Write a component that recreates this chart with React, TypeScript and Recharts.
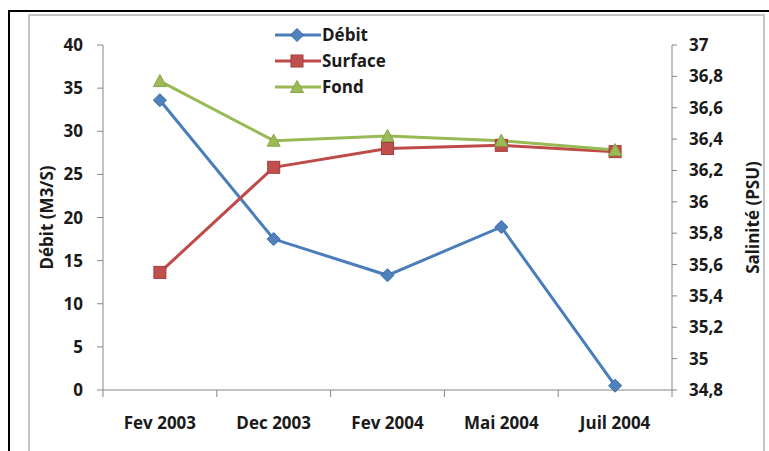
import React from 'react';
import { LineChart, Line, XAxis, YAxis, Legend } from 'recharts';

const categories = ['Fev 2003', 'Dec 2003', 'Fev 2004', 'Mai 2004', 'Juil 2004'];
const debitValues = [33.6, 17.5, 13.3, 18.9, 0.5];
const surfaceValues = [35.55, 36.22, 36.34, 36.36, 36.32];
const fondValues = [36.77, 36.39, 36.42, 36.39, 36.33];
const leftTicks = [0, 5, 10, 15, 20, 25, 30, 35, 40];
const rightTicks = [34.8, 35, 35.2, 35.4, 35.6, 35.8, 36, 36.2, 36.4, 36.6, 36.8, 37];

const data = categories.map((cat, i) => ({
  cat,
  debit: debitValues[i],
  surface: surfaceValues[i],
  fond: fondValues[i],
}));

const FONT = '"Open Sans", "DejaVu Sans", sans-serif';
const TEXT = '#1a1a1a';
const AXIS = '#868686';
const FS = 17;
const FW = 700;

const BLUE = '#4A7EBB';
const RED = '#BE4B48';
const GREEN = '#98B954';

type MarkerKind = 'diamond' | 'square' | 'triangle';

const Marker = ({ kind, cx, cy }: { kind: MarkerKind; cx: number; cy: number }) => {
  if (cx == null || cy == null) return null;
  if (kind === 'diamond') {
    const r = 6.5;
    return (
      <path
        d={`M${cx},${cy - r} L${cx + r},${cy} L${cx},${cy + r} L${cx - r},${cy} Z`}
        fill="#4F81BD"
        stroke="#3A6AA6"
        strokeWidth={1}
      />
    );
  }
  if (kind === 'square') {
    const h = 6;
    return <rect x={cx - h} y={cy - h} width={2 * h} height={2 * h} fill="#C0504D" stroke="#A43D3A" strokeWidth={1} />;
  }
  const h = 6.5;
  return (
    <path
      d={`M${cx},${cy - h} L${cx + h},${cy + h * 0.85} L${cx - h},${cy + h * 0.85} Z`}
      fill="#9BBB59"
      stroke="#85A447"
      strokeWidth={1}
    />
  );
};

const seriesList: { key: string; name: string; color: string; marker: MarkerKind; axis: string }[] = [
  { key: 'debit', name: 'Débit', color: BLUE, marker: 'diamond', axis: 'left' },
  { key: 'surface', name: 'Surface', color: RED, marker: 'square', axis: 'right' },
  { key: 'fond', name: 'Fond', color: GREEN, marker: 'triangle', axis: 'right' },
];

const TICK_SIZE = 7;
const TICK_MARGIN = 20;

const CategoryTick = (props: any) => {
  const { x, y, payload, index, visibleTicksCount, width } = props;
  const count = visibleTicksCount || categories.length;
  const half = (width || 569) / count / 2;
  const axisY = y - TICK_SIZE - TICK_MARGIN;
  return (
    <g>
      <line x1={x - half} y1={axisY} x2={x - half} y2={axisY + TICK_SIZE} stroke={AXIS} strokeWidth={1} />
      {index === count - 1 && (
        <line x1={x + half} y1={axisY} x2={x + half} y2={axisY + TICK_SIZE} stroke={AXIS} strokeWidth={1} />
      )}
      <text x={x} y={y} dy="0.71em" textAnchor="middle" fill={TEXT} fontSize={FS} fontWeight={FW} fontFamily={FONT}>
        {payload.value}
      </text>
    </g>
  );
};

const makeTitle = (text: string, dx: number, fallbackX: number) => (props: any) => {
  const vb = props.viewBox || {};
  const x = vb.x != null ? vb.x + dx : fallbackX;
  const y = vb.y != null ? vb.y + vb.height / 2 : 217;
  return (
    <text
      x={x}
      y={y}
      transform={`rotate(-90, ${x}, ${y})`}
      textAnchor="middle"
      dominantBaseline="central"
      fill={TEXT}
      fontSize={FS}
      fontWeight={FW}
      fontFamily={FONT}
    >
      {text}
    </text>
  );
};

const LegendContent = () => (
  <div style={{ fontFamily: FONT, fontSize: FS, fontWeight: FW, color: TEXT }}>
    {seriesList.map((s) => (
      <div key={s.key} style={{ display: 'flex', alignItems: 'center', height: 26 }}>
        <svg width={46} height={26} style={{ display: 'block' }}>
          <line x1={0} y1={13} x2={46} y2={13} stroke={s.color} strokeWidth={3} />
          <Marker kind={s.marker} cx={22} cy={13} />
        </svg>
        <span style={{ marginLeft: 1, lineHeight: '26px', whiteSpace: 'nowrap' }}>{s.name}</span>
      </div>
    ))}
  </div>
);

const fmtRight = (v: number) => String(Number(v.toFixed(1))).replace('.', ',');

export default function App() {
  return (
    <div
      style={{
        position: 'absolute',
        left: 0,
        top: 0,
        width: 769,
        height: 451,
        overflow: 'hidden',
        background: '#fff',
      }}
    >
      <div
        style={{
          position: 'absolute',
          left: 8,
          top: 10,
          width: 760,
          height: 460,
          borderLeft: '2px solid #000',
          borderTop: '2px solid #000',
        }}
      />
      <div
        style={{
          position: 'absolute',
          left: 28,
          top: 14,
          width: 733,
          height: 460,
          border: '2px solid #c4c4c4',
          background: '#fff',
        }}
      />
      <div style={{ position: 'absolute', left: 0, top: 0 }}>
        <LineChart width={769} height={451} data={data} margin={{ top: 45, right: 0, bottom: 21, left: 28 }}>
          <XAxis
            dataKey="cat"
            scale="band"
            height={40}
            axisLine={{ stroke: AXIS, strokeWidth: 1 }}
            tickLine={false}
            tickSize={TICK_SIZE}
            tickMargin={TICK_MARGIN}
            interval={0}
            tick={<CategoryTick />}
          />
          <YAxis
            yAxisId="left"
            orientation="left"
            width={75}
            domain={[0, 40]}
            ticks={leftTicks}
            interval={0}
            axisLine={{ stroke: AXIS, strokeWidth: 1 }}
            tickLine={{ stroke: AXIS, strokeWidth: 1 }}
            tickSize={6}
            tickMargin={14}
            tick={{ fill: TEXT, fontSize: FS, fontWeight: FW, fontFamily: FONT }}
            label={makeTitle('Débit (M3/S)', 18, 46)}
          />
          <YAxis
            yAxisId="right"
            orientation="right"
            width={97}
            domain={[34.8, 37]}
            ticks={rightTicks}
            interval={0}
            allowDataOverflow
            axisLine={{ stroke: AXIS, strokeWidth: 1 }}
            tickLine={{ stroke: AXIS, strokeWidth: 1 }}
            tickSize={5}
            tickMargin={12}
            tickFormatter={fmtRight}
            tick={{ fill: TEXT, fontSize: FS, fontWeight: FW, fontFamily: FONT, textAnchor: 'start' }}
            label={makeTitle('Salinité (PSU)', 80, 752)}
          />
          <Legend
            layout="vertical"
            align="center"
            verticalAlign="middle"
            wrapperStyle={{ left: 275, top: 22, width: 'auto' }}
            content={<LegendContent />}
          />
          {seriesList.map((s) => (
            <Line
              key={s.key}
              type="linear"
              dataKey={s.key}
              name={s.name}
              yAxisId={s.axis}
              stroke={s.color}
              strokeWidth={3}
              isAnimationActive={false}
              dot={(p: any) => <Marker key={`${s.key}-${p.index}`} kind={s.marker} cx={p.cx} cy={p.cy} />}
              activeDot={false}
            />
          ))}
        </LineChart>
      </div>
    </div>
  );
}
